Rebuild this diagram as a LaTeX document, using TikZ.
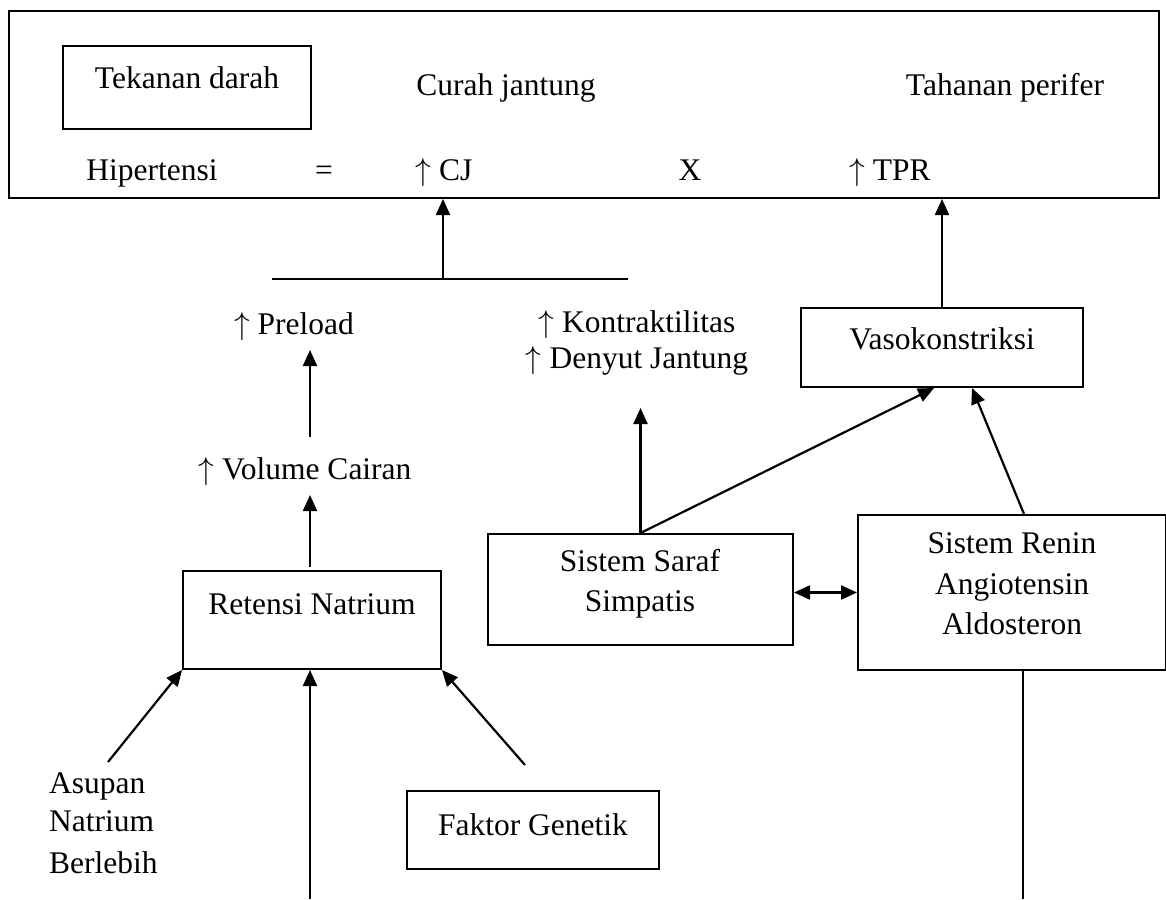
\RequirePackage{fix-cm}
\documentclass[tikz,border=0pt]{standalone}
\usepackage{fontspec}
\setmainfont{Liberation Serif}
\usetikzlibrary{arrows.meta}
\newcommand{\upar}{\ensuremath{\uparrow}}
\begin{document}
\begin{tikzpicture}[x=1pt,y=-1pt,
  every node/.style={inner sep=0pt, font=\fontsize{31.5}{41.5}\selectfont},
  boxsl/.style={draw, line width=2pt, anchor=north west},
  boxml/.style={draw, line width=2pt, anchor=north west},
  txt/.style={anchor=base},
  mtxt/.style={align=center},
  arr/.style={line width=2.2pt, -{Triangle[length=16pt,width=14pt]}},
  darr/.style={line width=2.2pt, {Triangle[length=16pt,width=14pt]}-{Triangle[length=16pt,width=14pt]}},
  ln/.style={line width=2.2pt}]
\useasboundingbox (0,0) rectangle (1166,899);

% top box
\node[boxml, minimum width=1150pt, minimum height=187pt] (outer) at (8,10) {};
\node[boxsl, minimum width=248pt, text height=42pt, text depth=41pt] (td) at (62,45) {Tekanan darah};
\node[txt] (cj) at (506,95) {Curah jantung};
\node[txt] (tp) at (1005,95) {Tahanan perifer};
\node[txt] (hip) at (152,180) {Hipertensi};
\node[txt] (eq) at (324,180) {=};
\node[txt] (upcj) at (444,180) {\upar{} CJ};
\node[txt] (times) at (690,180) {X};
\node[txt] (uptpr) at (890,180) {\upar{} TPR};

% bar to CJ
\coordinate (barL) at (272,279);
\coordinate (barR) at (628,279);
\coordinate (barM) at (443,279);
\draw[ln] (barL) -- (barR);
\draw[arr] (barM) -- (barM |- outer.south);

% vasokonstriksi
\node[boxsl, minimum width=282pt, text height=41pt, text depth=38pt] (vaso) at (800,307) {Vasokonstriksi};
\draw[arr] (vaso.north) -- (vaso.north |- outer.south);

% left chain
\node[txt] (pre) at (294,334) {\upar{} Preload};
\node[mtxt, font=\fontsize{31.5}{36}\selectfont] (kon) at (637,343) {\upar{} Kontraktilitas\\\upar{} Denyut Jantung};
\node[txt] (vc) at (305,479) {\upar{} Volume Cairan};
\node[boxsl, minimum width=258pt, text height=43pt, text depth=55pt] (ret) at (182,570) {Retensi Natrium};
\node[boxsl, minimum width=252pt, text height=44pt, text depth=34pt] (fg) at (406,790) {Faktor Genetik};
\node[align=left, anchor=west, font=\fontsize{31.5}{42}\selectfont] (asu) at (49,823) {Asupan\\[-4pt]Natrium\\Berlebih};

% right systems
\node[boxml, minimum width=305pt, minimum height=111pt] (sss) at (487,533) {};
\node[mtxt, font=\fontsize{31.5}{40}\selectfont] (ssst) at (640,584) {Sistem Saraf\\Simpatis};
\node[boxml, minimum width=308pt, minimum height=155pt] (rn) at (857,514) {};
\node[mtxt, font=\fontsize{31.5}{40.5}\selectfont] (rnt) at (1012,584) {Sistem Renin\\Angiotensin\\Aldosteron};

% connectors
\coordinate (vcTop) at (310,437);
\coordinate (preBot) at (310,350);
\draw[arr] (vcTop) -- (preBot);
\coordinate (vcBot) at (310,495);
\draw[arr, shorten <=3pt] (ret.north -| vcBot) -- (vcBot);
\coordinate (asuTop) at (108,762);
\draw[arr] (asuTop) -- (ret.south west);
\coordinate (bottomIn) at (310,899);
\draw[arr] (bottomIn) -- (bottomIn |- ret.south);
\coordinate (fgTop) at (525,765);
\draw[arr] (fgTop) -- (ret.south east);
\coordinate (konBot) at (644,408);
\draw[arr] (sss.north) -- (konBot -| sss.north);
\draw[arr] (sss.north) -- ([xshift=-8pt]vaso.south);
\draw[arr] ([xshift=12pt]rn.north) -- ([xshift=30pt]vaso.south);
\draw[darr] (rn.west -| sss.east) -- (rn.west);
\coordinate (rnBot) at (1023,899);
\draw[ln] (rnBot |- rn.south) -- (rnBot);
\end{tikzpicture}
\end{document}
